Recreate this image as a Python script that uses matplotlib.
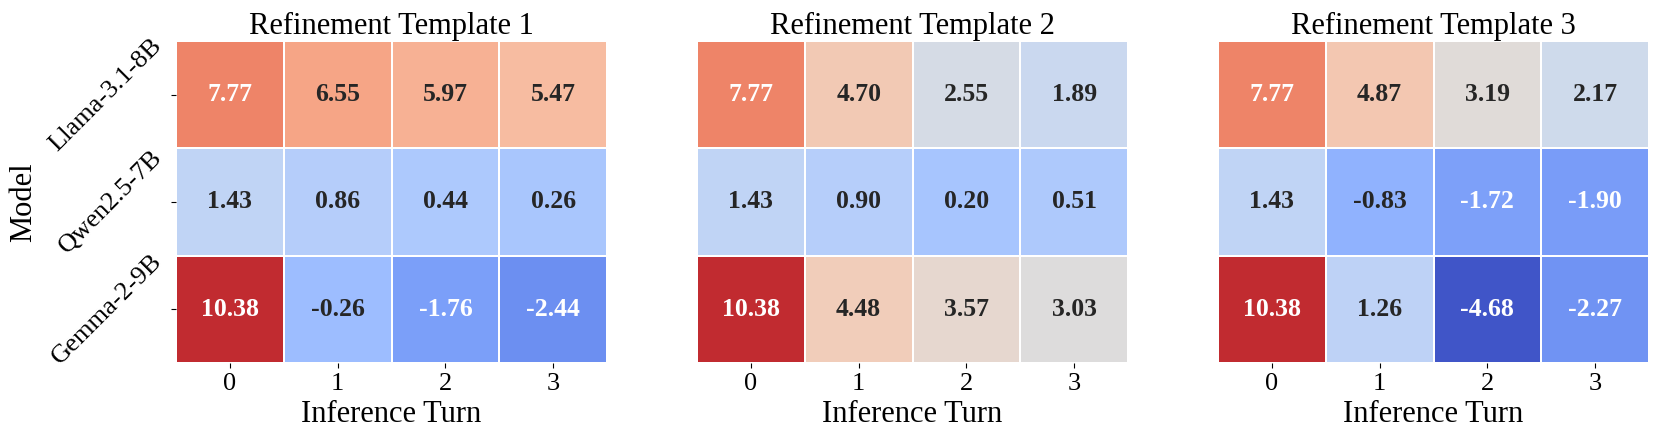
import matplotlib
matplotlib.use("Agg")
import matplotlib.pyplot as plt
import seaborn as sns
import numpy as np

plt.rcParams['font.family'] = ['Liberation Serif', 'DejaVu Serif']

models = ["Llama-3.1-8B", "Qwen2.5-7B", "Gemma-2-9B"]
turns = ["0", "1", "2", "3"]
titles = ["Refinement Template 1", "Refinement Template 2", "Refinement Template 3"]

template1 = [[7.77, 6.55, 5.97, 5.47],
             [1.43, 0.86, 0.44, 0.26],
             [10.38, -0.26, -1.76, -2.44]]
template2 = [[7.77, 4.70, 2.55, 1.89],
             [1.43, 0.90, 0.20, 0.51],
             [10.38, 4.48, 3.57, 3.03]]
template3 = [[7.77, 4.87, 3.19, 2.17],
             [1.43, -0.83, -1.72, -1.90],
             [10.38, 1.26, -4.68, -2.27]]

data = [np.array(template1), np.array(template2), np.array(template3)]
# shared colour scale for all three panels
vmin, vmax = -5, 11

fig = plt.figure(figsize=(16.6, 4.42), dpi=100)
lefts = [176, 697, 1218]
for i, (d, title) in enumerate(zip(data, titles)):
    ax = fig.add_axes([lefts[i] / 1660, 79 / 442, 431 / 1660, 322 / 442])
    sns.heatmap(d, ax=ax, cmap="coolwarm", vmin=vmin, vmax=vmax, cbar=False,
                annot=True, fmt=".2f", annot_kws={"size": 18.5, "weight": "bold"},
                linewidths=1.2, linecolor="white",
                xticklabels=turns, yticklabels=models if i == 0 else False)
    ax.set_title(title, fontsize=22, pad=5)
    ax.set_xlabel("Inference Turn", fontsize=22)
    ax.tick_params(axis='x', labelsize=19, rotation=0)
    if i == 0:
        ax.set_ylabel("Model", fontsize=22, labelpad=5)
        ax.tick_params(axis='y', labelsize=19)
        for lab in ax.get_yticklabels():
            lab.set_rotation(45)
            lab.set_ha('right')
            lab.set_va('center')
    else:
        ax.set_ylabel("")

fig.savefig("out.png", dpi=100)
